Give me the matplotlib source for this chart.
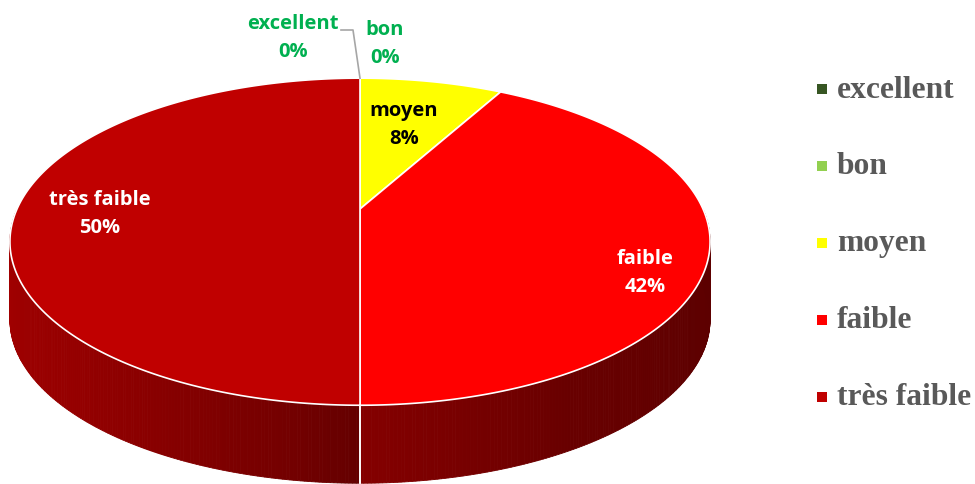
import numpy as np
from matplotlib import pyplot as plt
from matplotlib.patches import Polygon

# data
categories = ["excellent", "bon", "moyen", "faible", "très faible"]
values = [0, 0, 8, 42, 50]
slice_colors = ["#375623", "#92D050", "#FFFF00", "#FF0000", "#C00000"]
label_colors = ["#00B050", "#00B050", "#000000", "#FFFFFF", "#FFFFFF"]

# layout of the 3d pie (pixels)
CX, CY = 360, 210        # projected centre of the top disk
A, B = 343, 157          # radii before perspective
P = 0.2                  # perspective strength
DEPTH = 78               # thickness of the pie
label_pos = [(293, 38), (385, 44), (404, 125), (645, 273), (100, 214)]


def proj(phi, z=0.0):
    ph = np.radians(phi)
    u, v = np.cos(ph), np.sin(ph)
    w = 1 + P * v
    return CX + A * u / w, CY - B * v / w + DEPTH * z


def shade(phi):
    # lighting on the side wall, darker towards the right
    return np.interp(phi, [-180, -168, -136, -117, -99, -90, -60, -30, 0],
                     [0.85, 0.84, 0.78, 0.70, 0.60, 0.52, 0.41, 0.37, 0.36])


fig = plt.figure(figsize=(9.75, 4.85), dpi=100)
ax = fig.add_axes([0, 0, 1, 1])
ax.set_xlim(0, 975)
ax.set_ylim(485, 0)
ax.axis('off')

total = sum(values)
angles = [90.0]
for val in values:
    angles.append(angles[-1] - 360.0 * val / total)

# side wall (front half only)
for i, val in enumerate(values):
    if val == 0:
        continue
    a0, a1 = angles[i], angles[i + 1]
    lo, hi = max(a1, -180), min(a0, 0)
    if lo >= hi:
        continue
    base = np.array(plt.matplotlib.colors.to_rgb(slice_colors[i]))
    steps = np.linspace(lo, hi, int((hi - lo) / 0.5) + 2)
    for p0, p1 in zip(steps[:-1], steps[1:]):
        c = base * shade((p0 + p1) / 2)
        quad = [proj(p0), proj(p1), proj(p1, 1), proj(p0, 1)]
        ax.add_patch(Polygon(quad, closed=True, facecolor=c, edgecolor=c, linewidth=0.6))
    # white seam where slices meet on the wall
    for a in (a0, a1):
        if -180 < a < 0:
            x0, y0 = proj(a)
            x1, y1 = proj(a, 1)
            ax.plot([x0, x1], [y0, y1], color='white', linewidth=1.2)

# top face
for i, val in enumerate(values):
    if val == 0:
        continue
    a0, a1 = angles[i], angles[i + 1]
    arc = np.linspace(a0, a1, 200)
    pts = [(CX, CY)] + [proj(a) for a in arc]
    ax.add_patch(Polygon(pts, closed=True, facecolor=slice_colors[i],
                         edgecolor='white', linewidth=1.2, joinstyle='round'))

# data labels
for i, cat in enumerate(categories):
    x, y = label_pos[i]
    ax.text(x, y, f"{cat}\n{values[i]}%", ha='center', va='center',
            fontsize=14.5, fontweight='bold', family='Open Sans',
            color=label_colors[i], linespacing=1.5)

# leader line for excellent
tx, ty = proj(angles[0])
ax.plot([341, 353, tx], [31, 31, ty], color='#A6A6A6', linewidth=1.2)

# legend
for i, cat in enumerate(categories):
    y = 90 + i * 77
    ax.scatter([822], [y], marker='s', s=45, color=slice_colors[i], linewidths=0)
    ax.text(837, y, cat, ha='left', va='center', fontsize=22.7, fontweight='bold',
            family='Liberation Serif', color='#595959')

plt.savefig("out.png", dpi=100)
plt.close()
